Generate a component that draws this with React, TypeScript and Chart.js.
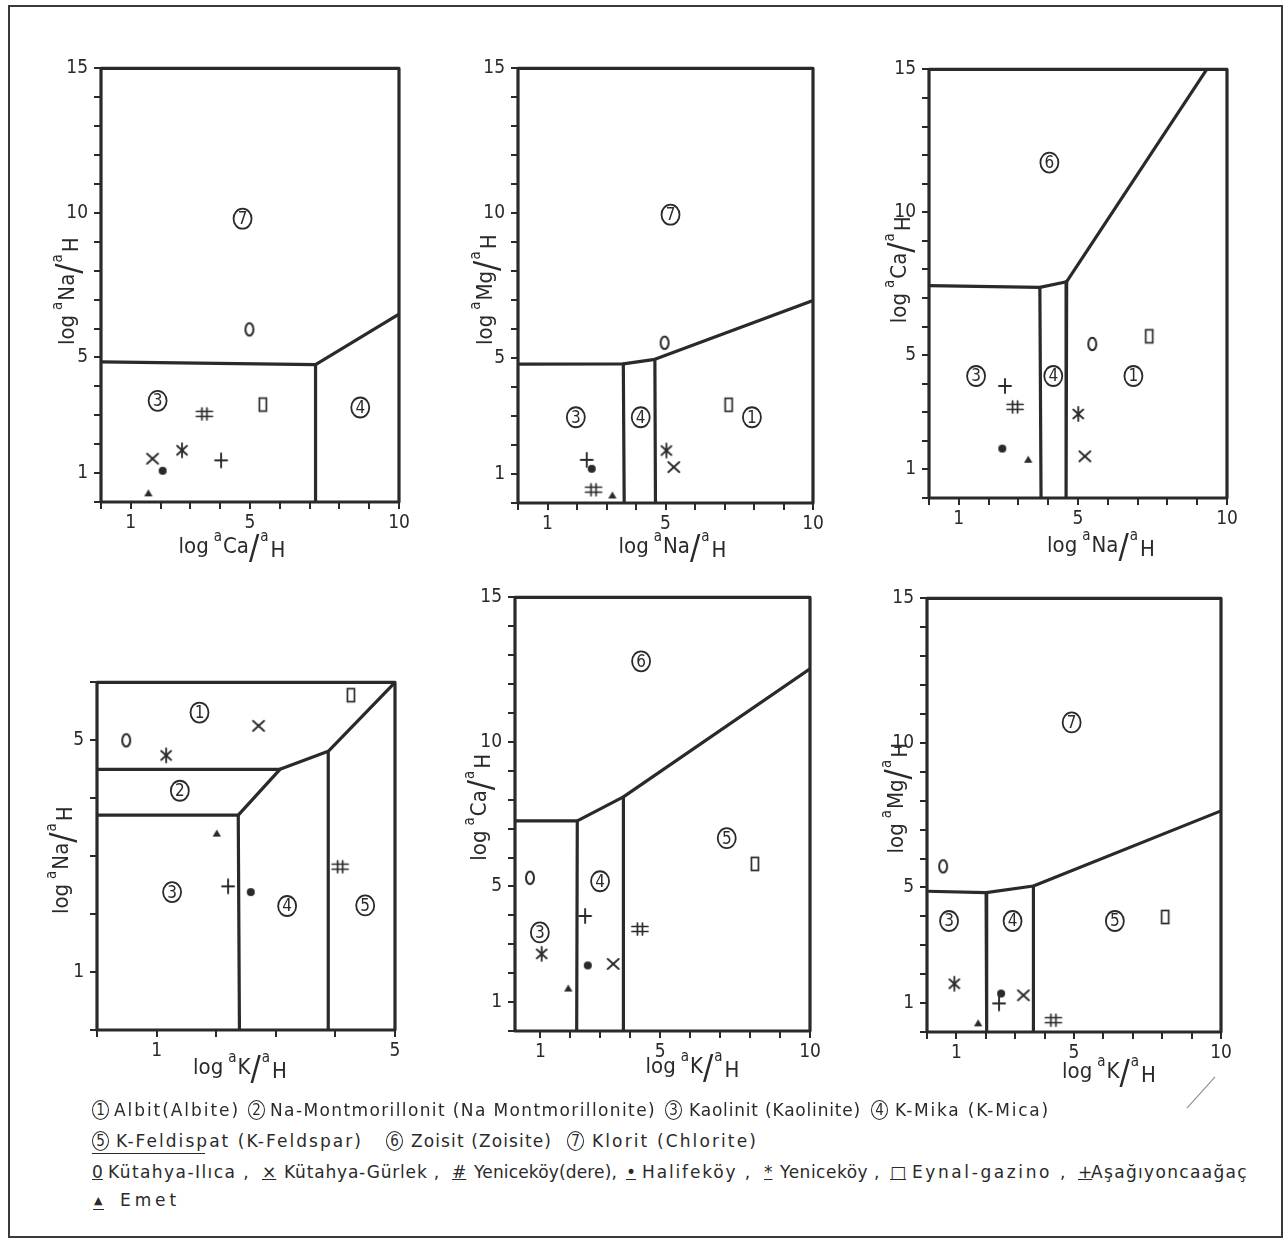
import React, { useEffect, useLayoutEffect, useRef } from 'react';
import { Chart, registerables } from 'chart.js';

Chart.register(...registerables);

const FONT = "'Liberation Sans Narrow', 'DejaVu Sans Condensed', 'Liberation Sans', sans-serif";
const INK = '#2a2a2a';

// Localities (legend order) and their marker kinds
const localities = ['Kütahya-Ilıca', 'Kütahya-Gürlek', 'Yeniceköy(dere)', 'Halifeköy', 'Yeniceköy', 'Eynal-gazino', 'Aşağıyoncaağaç', 'Emet'];
const markerKinds = ['zero', 'cross', 'hash', 'dot', 'star', 'rect', 'plus', 'tri'];

// Panel 1: x = log aCa/aH, y = log aNa/aH
const p1X = [4.98, 1.73, 3.47, 2.07, 2.72, 5.43, 4.03, 1.59];
const p1Y = [5.97, 1.50, 3.05, 1.08, 1.79, 3.37, 1.44, 0.30];
const p1Lines = [
  [[0, 4.85], [7.2, 4.75], [10, 6.5]],
  [[7.2, 4.75], [7.2, 0]],
];
const p1Fields = [[7, 4.75, 9.8], [3, 1.9, 3.5], [4, 8.7, 3.27]];

// Panel 2: x = log aNa/aH, y = log aMg/aH
const p2X = [4.97, 5.28, 2.56, 2.50, 5.03, 7.14, 2.33, 3.20];
const p2Y = [5.53, 1.24, 0.46, 1.18, 1.81, 3.39, 1.49, 0.26];
const p2Lines = [
  [[0, 4.79], [3.57, 4.8], [4.64, 4.96], [10, 6.99]],
  [[3.57, 4.8], [3.6, 0]],
  [[4.64, 4.96], [4.66, 0]],
];
const p2Fields = [[7, 5.17, 9.95], [3, 1.96, 2.96], [4, 4.16, 2.96], [1, 7.93, 2.96]];

// Panel 3: x = log aNa/aH, y = log aCa/aH
const p3X = [5.48, 5.23, 2.89, 2.46, 5.01, 7.39, 2.55, 3.33];
const p3Y = [5.39, 1.46, 3.19, 1.73, 2.94, 5.66, 3.92, 1.34];
const p3Lines = [
  [[0, 7.43], [3.72, 7.37], [4.62, 7.57], [9.32, 15]],
  [[3.72, 7.37], [3.76, 0]],
  [[4.62, 7.57], [4.6, 0]],
];
const p3Fields = [[6, 4.04, 11.74], [3, 1.58, 4.27], [4, 4.17, 4.27], [1, 6.86, 4.27]];

// Panel 4: x = log aK/aH, y = log aNa/aH
const p4X = [0.49, 2.71, 4.08, 2.58, 1.16, 4.26, 2.20, 2.01];
const p4Y = [5.00, 5.25, 2.82, 2.38, 4.74, 5.78, 2.48, 3.39];
const p4Lines = [
  [[0, 4.5], [3.07, 4.5], [3.88, 4.81], [5, 6]],
  [[0, 3.71], [2.37, 3.71], [3.07, 4.5]],
  [[2.37, 3.71], [2.39, 0]],
  [[3.88, 4.81], [3.88, 0]],
];
const p4Fields = [[1, 1.72, 5.48], [2, 1.39, 4.13], [3, 1.26, 2.38], [4, 3.19, 2.14], [5, 4.5, 2.15]];

// Panel 5: x = log aK/aH, y = log aCa/aH
const p5X = [0.65, 3.43, 4.32, 2.58, 1.04, 8.16, 2.49, 1.93];
const p5Y = [5.30, 2.32, 3.53, 2.27, 2.67, 5.78, 3.98, 1.47];
const p5Lines = [
  [[0.15, 7.27], [2.23, 7.27], [3.77, 8.1], [10, 12.53]],
  [[2.23, 7.27], [2.21, 0]],
  [[3.77, 8.1], [3.77, 0]],
];
const p5Fields = [[6, 4.36, 12.79], [5, 7.22, 6.67], [4, 2.99, 5.18], [3, 0.98, 3.41]];

// Panel 6: x = log aK/aH, y = log aMg/aH
const p6X = [0.55, 3.28, 4.30, 2.52, 0.93, 8.10, 2.45, 1.74];
const p6Y = [5.73, 1.27, 0.41, 1.33, 1.67, 3.98, 0.99, 0.30];
const p6Lines = [
  [[0, 4.87], [2.01, 4.82], [3.62, 5.05], [10, 7.65]],
  [[2.01, 4.82], [2.03, 0]],
  [[3.62, 5.05], [3.62, 0]],
];
const p6Fields = [[7, 4.92, 10.71], [3, 0.75, 3.84], [4, 2.91, 3.84], [5, 6.39, 3.84]];

// Tick labels
const xLabels10 = [1, 5, 10];
const yLabels15 = [1, 5, 10, 15];
const xLabels5 = [1, 5];
const yLabels6 = [1, 5];

// Mineral field names (legend)
const fieldNames = ['Albit(Albite)', 'Na-Montmorillonit (Na Montmorillonite)', 'Kaolinit (Kaolinite)', 'K-Mika (K-Mica)', 'K-Feldispat (K-Feldspar)', 'Zoisit (Zoisite)', 'Klorit (Chlorite)'];

const PAD_L = 80;
const PAD_R = 24;
const PAD_T = 14;
const PAD_B = 70;

type Panel = {
  xSp: string; ySp: string;
  xs: number[]; ys: number[];
  lines: number[][][]; fields: number[][];
  xMin: number; xMax: number; yMin: number; yMax: number;
  xLabels: number[]; yLabels: number[];
  box: { l: number; t: number; r: number; b: number };
  xT: { dx: number; dy: number }; yT: { dx: number; dy: number };
};

const panels: Panel[] = [
  { xSp: 'Ca', ySp: 'Na', xs: p1X, ys: p1Y, lines: p1Lines, fields: p1Fields, xMin: 0, xMax: 10, yMin: 0, yMax: 15, xLabels: xLabels10, yLabels: yLabels15,
    box: { l: 101, t: 65, r: 399, b: 502 }, xT: { dx: -18, dy: 45 }, yT: { dx: 33, dy: 6 } },
  { xSp: 'Na', ySp: 'Mg', xs: p2X, ys: p2Y, lines: p2Lines, fields: p2Fields, xMin: 0, xMax: 10, yMin: 0, yMax: 15, xLabels: xLabels10, yLabels: yLabels15,
    box: { l: 518, t: 65, r: 813, b: 503 }, xT: { dx: 7, dy: 44 }, yT: { dx: 32, dy: 4 } },
  { xSp: 'Na', ySp: 'Ca', xs: p3X, ys: p3Y, lines: p3Lines, fields: p3Fields, xMin: 0, xMax: 10, yMin: 0, yMax: 15, xLabels: xLabels10, yLabels: yLabels15,
    box: { l: 929, t: 66, r: 1227, b: 498 }, xT: { dx: 23, dy: 48 }, yT: { dx: 29, dy: -14 } },
  { xSp: 'K', ySp: 'Na', xs: p4X, ys: p4Y, lines: p4Lines, fields: p4Fields, xMin: 0, xMax: 5, yMin: 0, yMax: 6, xLabels: xLabels5, yLabels: yLabels6,
    box: { l: 97, t: 679, r: 395, b: 1030 }, xT: { dx: -6, dy: 38 }, yT: { dx: 35, dy: 4 } },
  { xSp: 'K', ySp: 'Ca', xs: p5X, ys: p5Y, lines: p5Lines, fields: p5Fields, xMin: 0.15, xMax: 10, yMin: 0, yMax: 15, xLabels: xLabels10, yLabels: yLabels15,
    box: { l: 515, t: 594, r: 810, b: 1031 }, xT: { dx: 30, dy: 36 }, yT: { dx: 35, dy: -7 } },
  { xSp: 'K', ySp: 'Mg', xs: p6X, ys: p6Y, lines: p6Lines, fields: p6Fields, xMin: 0, xMax: 10, yMin: 0, yMax: 15, xLabels: xLabels10, yLabels: yLabels15,
    box: { l: 927, t: 595, r: 1221, b: 1032 }, xT: { dx: 35, dy: 40 }, yT: { dx: 30, dy: -17 } },
];

function makeMarker(kind: string): HTMLCanvasElement {
  const c = document.createElement('canvas');
  c.width = 22; c.height = 22;
  const g = c.getContext('2d')!;
  g.translate(11, 11);
  g.strokeStyle = INK; g.fillStyle = INK; g.lineWidth = 1.9; g.lineCap = 'round';
  const seg = (a: number, b: number, cc: number, d: number) => { g.beginPath(); g.moveTo(a, b); g.lineTo(cc, d); g.stroke(); };
  if (kind === 'zero') { g.lineWidth = 2; g.beginPath(); g.ellipse(0, 0, 4, 6.2, 0, 0, Math.PI * 2); g.stroke(); }
  if (kind === 'cross') { seg(-5.5, -5, 5.5, 5); seg(5.5, -5, -5.5, 5); }
  if (kind === 'hash') { g.lineWidth = 1.7; seg(-8, -2.5, 8, -2.5); seg(-8, 2.5, 8, 2.5); seg(-2.5, -6, -2.5, 6); seg(2.5, -6, 2.5, 6); }
  if (kind === 'dot') { g.beginPath(); g.arc(0, 0, 4, 0, Math.PI * 2); g.fill(); }
  if (kind === 'star') { g.lineWidth = 1.8; seg(0, -7, 0, 7); seg(-5, -4.5, 5, 4.5); seg(5, -4.5, -5, 4.5); }
  if (kind === 'rect') { g.lineWidth = 1.7; g.strokeRect(-3.5, -6.5, 7, 13); }
  if (kind === 'plus') { seg(-6, 0, 6, 0); seg(0, -7, 0, 7); }
  if (kind === 'tri') { g.beginPath(); g.moveTo(0, -4); g.lineTo(4.2, 3); g.lineTo(-4.2, 3); g.closePath(); g.fill(); }
  return c;
}

function drawRatio(ctx: CanvasRenderingContext2D, cx: number, cy: number, sp: string, vertical: boolean) {
  const parts = [
    { t: 'log', f: 22, dy: 0, gap: 5 },
    { t: 'a', f: 15, dy: -10, gap: 1 },
    { t: sp, f: 22, dy: 0, gap: 0 },
    { t: '/', f: 34, dy: 3, gap: 1 },
    { t: 'a', f: 15, dy: -10, gap: 2 },
    { t: 'H', f: 22, dy: 4, gap: 0 },
  ];
  ctx.save();
  ctx.fillStyle = INK;
  ctx.textBaseline = 'middle';
  ctx.textAlign = 'left';
  let total = 0;
  const widths = parts.map((p) => { ctx.font = `${p.f}px ${FONT}`; const w = ctx.measureText(p.t).width; total += w + p.gap; return w; });
  ctx.translate(cx, cy);
  if (vertical) ctx.rotate(-Math.PI / 2);
  let x = -total / 2;
  parts.forEach((p, i) => { ctx.font = `${p.f}px ${FONT}`; ctx.fillText(p.t, x, p.dy); x += widths[i] + p.gap; });
  ctx.restore();
}

function buildConfig(p: Panel, imgs: Record<string, HTMLCanvasElement>): any {
  const datasets: any[] = [];
  p.lines.forEach((line) => datasets.push({
    type: 'scatter', data: line.map(([x, y]) => ({ x, y })), showLine: true, borderColor: INK, borderWidth: 3.2,
    borderJoinStyle: 'round', borderCapStyle: 'round', pointRadius: 0, pointHoverRadius: 0, fill: false, order: 2,
  }));
  localities.forEach((name, i) => datasets.push({
    type: 'scatter', label: name, data: [{ x: p.xs[i], y: p.ys[i] }], pointStyle: imgs[markerKinds[i]], pointRadius: 6, order: 1,
  }));
  const intTicks = (min: number, max: number) => { const r: any[] = []; for (let v = Math.ceil(min); v <= max; v++) r.push({ value: v }); return r; };
  const framePlugin = {
    id: 'frame',
    beforeDatasetsDraw(chart: any) {
      const a = chart.chartArea; const ctx = chart.ctx;
      ctx.save(); ctx.strokeStyle = INK; ctx.lineWidth = 3.2; ctx.lineJoin = 'round';
      ctx.strokeRect(a.left, a.top, a.right - a.left, a.bottom - a.top); ctx.restore();
    },
    afterDatasetsDraw(chart: any) {
      const ctx = chart.ctx; const xs = chart.scales.x; const ys = chart.scales.y;
      ctx.save();
      p.fields.forEach(([n, x, y]) => {
        const px = xs.getPixelForValue(x); const py = ys.getPixelForValue(y);
        ctx.strokeStyle = INK; ctx.lineWidth = 1.8;
        ctx.beginPath(); ctx.ellipse(px, py, 9, 10, 0, 0, Math.PI * 2); ctx.stroke();
        ctx.fillStyle = INK; ctx.font = `17px ${FONT}`; ctx.textAlign = 'center'; ctx.textBaseline = 'middle';
        ctx.fillText(String(n), px, py + 1);
      });
      ctx.restore();
    },
    afterDraw(chart: any) {
      const a = chart.chartArea; const ctx = chart.ctx;
      drawRatio(ctx, (a.left + a.right) / 2 + p.xT.dx, a.bottom + p.xT.dy, p.xSp, false);
      drawRatio(ctx, a.left - p.yT.dx, (a.top + a.bottom) / 2 + p.yT.dy, p.ySp, true);
    },
  };
  return {
    type: 'scatter',
    data: { datasets },
    plugins: [framePlugin],
    options: {
      animation: false, responsive: false, devicePixelRatio: 1, events: [],
      layout: { padding: { top: PAD_T, right: PAD_R, left: 0, bottom: 0 } },
      plugins: { legend: { display: false }, tooltip: { enabled: false }, title: { display: false } },
      scales: {
        x: {
          type: 'linear', min: p.xMin, max: p.xMax,
          afterBuildTicks: (s: any) => { s.ticks = intTicks(p.xMin, p.xMax); },
          afterFit: (s: any) => { s.height = PAD_B; },
          ticks: { autoSkip: false, maxRotation: 0, padding: 3, color: INK, font: { family: FONT, size: 19 },
            callback: (v: any) => (p.xLabels.includes(Number(v)) ? String(v) : '') },
          grid: { drawOnChartArea: false, drawTicks: true, tickLength: 7, color: INK, lineWidth: 2 },
          border: { display: false },
        },
        y: {
          type: 'linear', min: p.yMin, max: p.yMax,
          afterBuildTicks: (s: any) => { s.ticks = intTicks(p.yMin, p.yMax); },
          afterFit: (s: any) => { s.width = PAD_L; },
          ticks: { autoSkip: false, padding: 6, color: INK, font: { family: FONT, size: 19 },
            callback: (v: any) => (p.yLabels.includes(Number(v)) ? String(v) : '') },
          grid: { drawOnChartArea: false, drawTicks: true, tickLength: 7, color: INK, lineWidth: 2 },
          border: { display: false },
        },
      },
    },
  };
}

function PanelChart({ p }: { p: Panel }) {
  const ref = useRef<HTMLCanvasElement>(null);
  const w = PAD_L + (p.box.r - p.box.l) + PAD_R;
  const h = PAD_T + (p.box.b - p.box.t) + PAD_B;
  useEffect(() => {
    const imgs: Record<string, HTMLCanvasElement> = {};
    markerKinds.forEach((k) => { imgs[k] = makeMarker(k); });
    const chart = new Chart(ref.current!, buildConfig(p, imgs));
    return () => chart.destroy();
  }, [p]);
  return (
    <canvas ref={ref} width={w} height={h}
      style={{ position: 'absolute', left: p.box.l - PAD_L, top: p.box.t - PAD_T, width: w, height: h }} />
  );
}

const textStyle: React.CSSProperties = {
  position: 'absolute', fontFamily: "'DejaVu Sans', sans-serif", fontSize: 17, color: INK,
  lineHeight: '20px', whiteSpace: 'nowrap',
};

function Circ({ n, left, top }: { n: number; left: number; top: number }) {
  return (
    <span style={{ position: 'absolute', left, top, width: 15, height: 18, border: `1.6px solid ${INK}`, borderRadius: '50%',
      fontFamily: FONT, fontSize: 15, lineHeight: '18px', textAlign: 'center', color: INK }}>{n}</span>
  );
}

// Text fitted to a target span [left, right] via letter-spacing
function Fit({ left, right, top, children }: { left: number; right: number; top: number; children: string }) {
  const ref = useRef<HTMLSpanElement>(null);
  useLayoutEffect(() => {
    const el = ref.current!;
    el.style.letterSpacing = '0px';
    const w0 = el.getBoundingClientRect().width;
    const n = children.length;
    if (n > 1) el.style.letterSpacing = `${(right - left - w0) / n}px`;
  }, [left, right, children]);
  return <span ref={ref} style={{ ...textStyle, left, top }}>{children}</span>;
}

function Sym({ left, top, children, size }: { left: number; top: number; children: string; size?: number }) {
  return <span style={{ ...textStyle, left, top, fontSize: size || 17, textDecoration: 'underline' }}>{children}</span>;
}

export default function App() {
  const l1 = 1100, l2 = 1131, l3 = 1162, l4 = 1190;
  return (
    <div style={{ position: 'absolute', left: 0, top: 0, width: 1287, height: 1241, background: '#fff', overflow: 'hidden' }}>
      <div style={{ position: 'absolute', left: 8, top: 5, width: 1271, height: 1229, border: `2.5px solid #3a3a3a` }} />
      {panels.map((p, i) => <PanelChart key={i} p={p} />)}

      <Circ n={1} left={92} top={l1} /><Fit left={114} right={240} top={l1}>{fieldNames[0]}</Fit>
      <Circ n={2} left={248} top={l1} /><Fit left={270} right={656} top={l1}>{fieldNames[1]}</Fit>
      <Circ n={3} left={665} top={l1} /><Fit left={689} right={861} top={l1}>{fieldNames[2]}</Fit>
      <Circ n={4} left={871} top={l1} /><Fit left={895} right={1050} top={l1}>{fieldNames[3]}</Fit>

      <Circ n={5} left={92} top={l2} /><Fit left={116} right={363} top={l2}>{fieldNames[4]}</Fit>
      <div style={{ position: 'absolute', left: 92, top: 1153, width: 113, height: 0, borderTop: `1.5px solid ${INK}` }} />
      <Circ n={6} left={386} top={l2} /><Fit left={411} right={552} top={l2}>{fieldNames[5]}</Fit>
      <Circ n={7} left={567} top={l2} /><Fit left={592} right={758} top={l2}>{fieldNames[6]}</Fit>

      <Sym left={92} top={l3}>0</Sym><Fit left={108} right={250} top={l3}>{`${localities[0]} ,`}</Fit>
      <Sym left={262} top={l3}>×</Sym><Fit left={284} right={440} top={l3}>{`${localities[1]} ,`}</Fit>
      <Sym left={452} top={l3}>#</Sym><Fit left={474} right={617} top={l3}>{`${localities[2]},`}</Fit>
      <Sym left={626} top={l3}>•</Sym><Fit left={642} right={752} top={l3}>{`${localities[3]} ,`}</Fit>
      <Sym left={764} top={l3}>*</Sym><Fit left={780} right={880} top={l3}>{`${localities[4]} ,`}</Fit>
      <Sym left={890} top={l3}>□</Sym><Fit left={912} right={1068} top={l3}>{`${localities[5]} ,`}</Fit>
      <Sym left={1078} top={l3}>+</Sym><Fit left={1091} right={1248} top={l3}>{localities[6]}</Fit>

      <span style={{ ...textStyle, left: 94, top: l4 + 1, fontSize: 11 }}>▲</span>
      <div style={{ position: 'absolute', left: 93, top: l4 + 19, width: 11, height: 0, borderTop: `1.5px solid ${INK}` }} />
      <Fit left={120} right={180} top={l4}>{localities[7]}</Fit>

      <div style={{ position: 'absolute', left: 1180, top: 1092, width: 42, height: 0, borderTop: '1px solid #888', transform: 'rotate(-48deg)' }} />
    </div>
  );
}
